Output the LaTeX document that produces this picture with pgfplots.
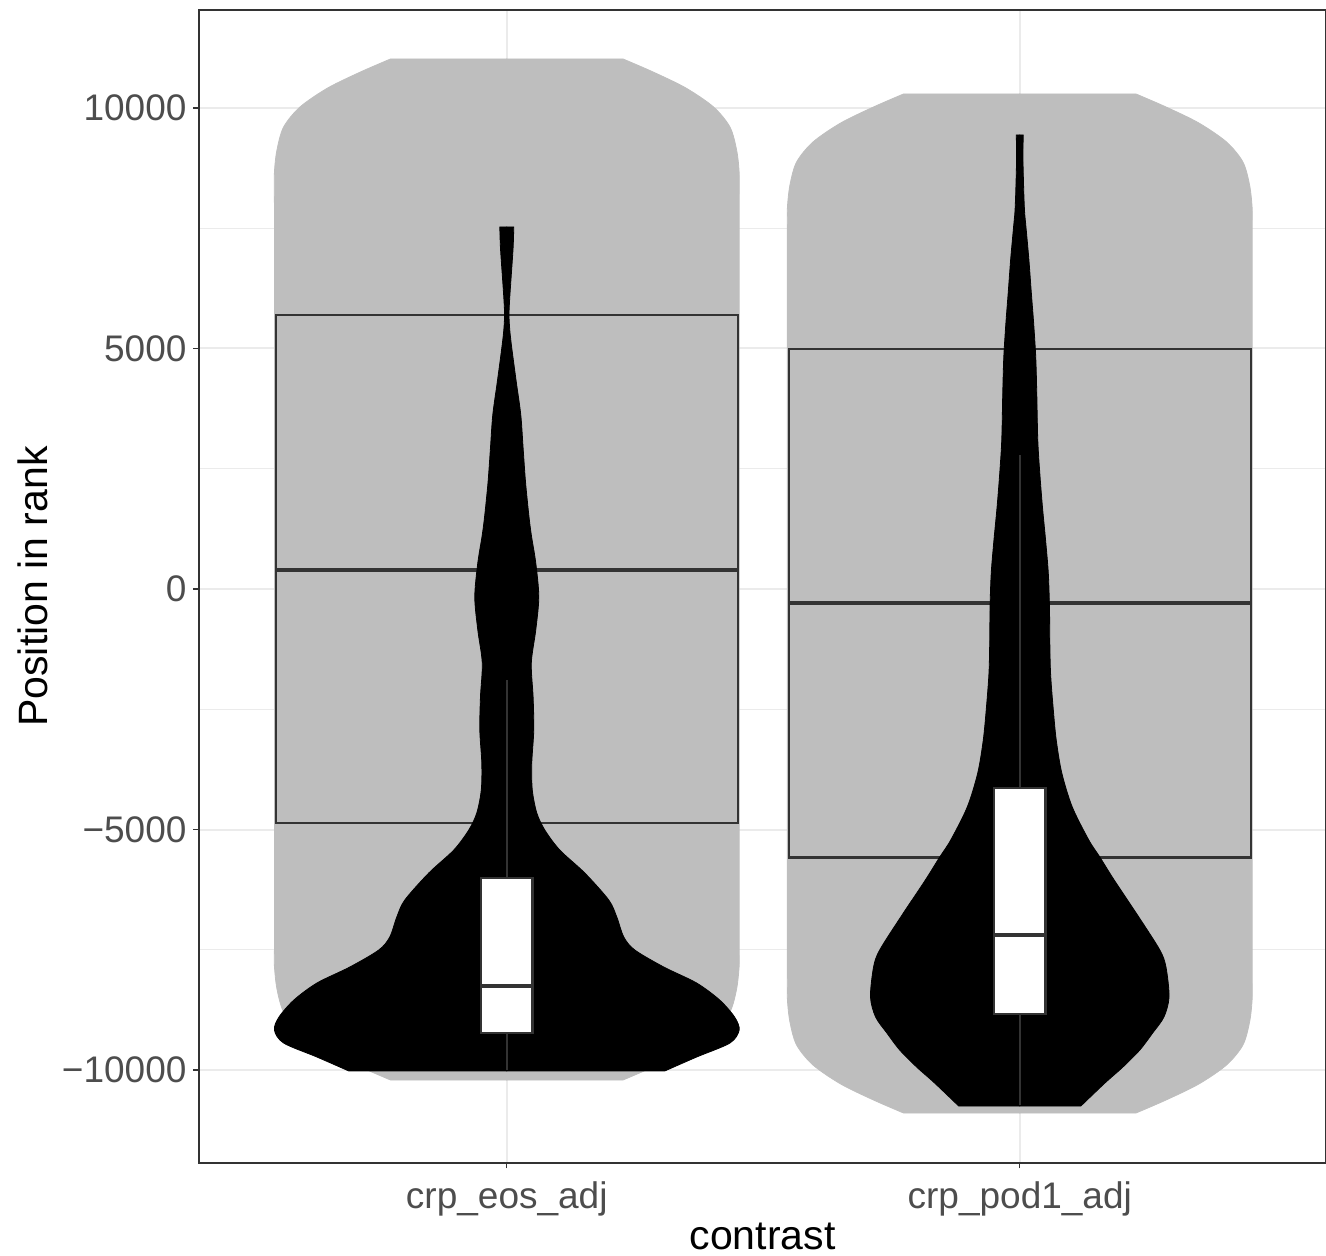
\documentclass[border=0pt]{standalone}
\usepackage{fontspec}
\setmainfont{Liberation Sans}
\usepackage{pgfplots}
\usepackage{pgfplotstable}
\pgfplotsset{compat=1.18}
\definecolor{vgrey}{HTML}{BEBEBE}
\definecolor{c33}{HTML}{333333}
\definecolor{c4d}{HTML}{4D4D4D}
\definecolor{gridc}{HTML}{EBEBEB}

% grey violins: y, half-width
\pgfplotstableread{
y w
11019 0.2265
10749 0.285
10416 0.349
10021 0.403
9605 0.435
9127 0.448
8649 0.453
8000 0.453
7500 0.453
7000 0.453
6500 0.453
6000 0.453
5500 0.453
5000 0.453
4500 0.453
4000 0.453
3500 0.453
3000 0.453
2500 0.453
2000 0.453
1500 0.453
1000 0.453
500 0.453
0 0.453
-500 0.453
-1000 0.453
-1500 0.453
-2000 0.453
-2500 0.453
-3000 0.453
-3500 0.453
-4000 0.453
-4500 0.453
-5000 0.453
-5500 0.453
-6000 0.453
-6500 0.453
-7000 0.453
-7500 0.453
-7838 0.453
-8316 0.448
-8794 0.435
-9210 0.403
-9605 0.349
-9938 0.285
-10208 0.2265
}\greyA
\pgfplotstableread{
y w
10291 0.2265
10021 0.285
9688 0.349
9293 0.403
8877 0.435
8399 0.448
7921 0.453
7500 0.453
7000 0.453
6500 0.453
6000 0.453
5500 0.453
5000 0.453
4500 0.453
4000 0.453
3500 0.453
3000 0.453
2500 0.453
2000 0.453
1500 0.453
1000 0.453
500 0.453
0 0.453
-500 0.453
-1000 0.453
-1500 0.453
-2000 0.453
-2500 0.453
-3000 0.453
-3500 0.453
-4000 0.453
-4500 0.453
-5000 0.453
-5500 0.453
-6000 0.453
-6500 0.453
-7000 0.453
-7500 0.453
-8000 0.453
-8524 0.453
-9002 0.448
-9480 0.435
-9896 0.403
-10291 0.349
-10624 0.285
-10894 0.2265
}\greyB
% black violins
\pgfplotstableread{
y w
7526 0.0136
7089 0.0123
6382 0.0078
6008 0.0055
5697 0.0043
5385 0.0058
5011 0.0097
4304 0.0185
3617 0.0273
2931 0.0318
2225 0.0365
1538 0.0429
1123 0.0478
541 0.0565
-166 0.0624
-852 0.0565
-1538 0.0478
-2245 0.0513
-2931 0.0526
-3617 0.0487
-4179 0.0497
-4657 0.0585
-5011 0.0741
-5427 0.1033
-5904 0.152
-6466 0.1988
-6819 0.2144
-7235 0.2281
-7505 0.2495
-7859 0.306
-8191 0.370
-8545 0.415
-8898 0.444
-9168 0.453
-9439 0.435
-9730 0.370
-10020 0.308
}\blackA
\pgfplotstableread{
y w
9439 0.0068
8960 0.0062
8254 0.0078
7838 0.0094
7568 0.0117
6882 0.0175
6175 0.0224
5489 0.0273
4802 0.0312
4096 0.0331
3098 0.0351
2412 0.039
1705 0.0442
1019 0.0503
333 0.0556
-374 0.0579
-1060 0.0585
-1746 0.060
-2453 0.0649
-3139 0.0711
-3825 0.0819
-4532 0.1023
-5218 0.1345
-5572 0.156
-6050 0.184
-6819 0.232
-7505 0.273
-7859 0.285
-8482 0.291
-8898 0.281
-9231 0.259
-9584 0.234
-9938 0.201
-10270 0.166
-10749 0.119
}\blackB

\begin{document}
\begin{tikzpicture}
\begin{axis}[
  scale only axis,
  width=563.5pt, height=576.5pt,
  xmin=0.4, xmax=2.597, ymin=-11933, ymax=12037,
  xtick={1,2}, xticklabels={crp\_eos\_adj,crp\_pod1\_adj},
  ytick={-10000,-5000,0,5000,10000},
  yticklabels={−10000,−5000,0,5000,10000},
  minor ytick={-7500,-2500,2500,7500},
  grid=both,
  major grid style={color=gridc, line width=1pt},
  minor grid style={color=gridc, line width=0.5pt},
  tick align=outside, major tick length=2.75pt, minor tick length=0pt,
  tick style={color=c33, line width=0.55pt},
  xtick pos=lower, ytick pos=left,
  axis line style={color=c33, line width=0.7pt},
  tick label style={font=\fontsize{18.5}{22}\selectfont, color=c4d},
  yticklabel style={anchor=east},
  xticklabel style={anchor=base, yshift=-20pt},
  label style={font=\fontsize{20.5}{24}\selectfont, color=black},
  xlabel={contrast}, ylabel={Position in rank},
  xlabel style={at={(axis description cs:0.5,-0.0746)}, anchor=base},
  ylabel style={at={(axis description cs:-0.1473,0.5)}, anchor=center},
  scaled y ticks=false,
]
% grey violins (two halves each)
\addplot[fill=vgrey, draw=vgrey, line width=0.4pt, smooth] table[x expr=1+\thisrow{w}, y=y] {\greyA} -- (axis cs:1,-10208) -- (axis cs:1,11019) -- cycle;
\addplot[fill=vgrey, draw=vgrey, line width=0.4pt, smooth] table[x expr=1-\thisrow{w}, y=y] {\greyA} -- (axis cs:1,-10208) -- (axis cs:1,11019) -- cycle;
\addplot[fill=vgrey, draw=vgrey, line width=0.4pt, smooth] table[x expr=2+\thisrow{w}, y=y] {\greyB} -- (axis cs:2,-10894) -- (axis cs:2,10291) -- cycle;
\addplot[fill=vgrey, draw=vgrey, line width=0.4pt, smooth] table[x expr=2-\thisrow{w}, y=y] {\greyB} -- (axis cs:2,-10894) -- (axis cs:2,10291) -- cycle;
% big boxes
\addplot[fill=vgrey, draw=c33, line width=1.1pt] coordinates {(0.55,-4865) (1.45,-4865) (1.45,5697) (0.55,5697)} -- cycle;
\addplot[draw=c33, line width=2pt] coordinates {(0.55,395) (1.45,395)};
\addplot[fill=vgrey, draw=c33, line width=1.1pt] coordinates {(1.55,-5580) (2.45,-5580) (2.45,4990) (1.55,4990)} -- cycle;
\addplot[draw=c33, line width=2pt] coordinates {(1.55,-291) (2.45,-291)};
% black violins
\addplot[fill=black, draw=black, line width=0.4pt, smooth] table[x expr=1+\thisrow{w}, y=y] {\blackA} -- (axis cs:1,-10020) -- (axis cs:1,7526) -- cycle;
\addplot[fill=black, draw=black, line width=0.4pt, smooth] table[x expr=1-\thisrow{w}, y=y] {\blackA} -- (axis cs:1,-10020) -- (axis cs:1,7526) -- cycle;
\addplot[fill=black, draw=black, line width=0.4pt, smooth] table[x expr=2+\thisrow{w}, y=y] {\blackB} -- (axis cs:2,-10749) -- (axis cs:2,9439) -- cycle;
\addplot[fill=black, draw=black, line width=0.4pt, smooth] table[x expr=2-\thisrow{w}, y=y] {\blackB} -- (axis cs:2,-10749) -- (axis cs:2,9439) -- cycle;
% small boxes with whiskers
\addplot[draw=c33, line width=1.1pt] coordinates {(1,-10000) (1,-9231)};
\addplot[draw=c33, line width=1.1pt] coordinates {(1,-6008) (1,-1892)};
\addplot[fill=white, draw=c33, line width=1.1pt] coordinates {(0.95,-9231) (1.05,-9231) (1.05,-6008) (0.95,-6008)} -- cycle;
\addplot[draw=c33, line width=2pt] coordinates {(0.95,-8254) (1.05,-8254)};
\addplot[draw=c33, line width=1.1pt] coordinates {(2,-10728) (2,-8836)};
\addplot[draw=c33, line width=1.1pt] coordinates {(2,-4137) (2,2786)};
\addplot[fill=white, draw=c33, line width=1.1pt] coordinates {(1.95,-8836) (2.05,-8836) (2.05,-4137) (1.95,-4137)} -- cycle;
\addplot[draw=c33, line width=2pt] coordinates {(1.95,-7193) (2.05,-7193)};
\end{axis}
\pgfresetboundingbox
\path[use as bounding box] (-99.5pt,-46.5pt) rectangle (563.5pt,581.5pt);
\end{tikzpicture}
\end{document}
